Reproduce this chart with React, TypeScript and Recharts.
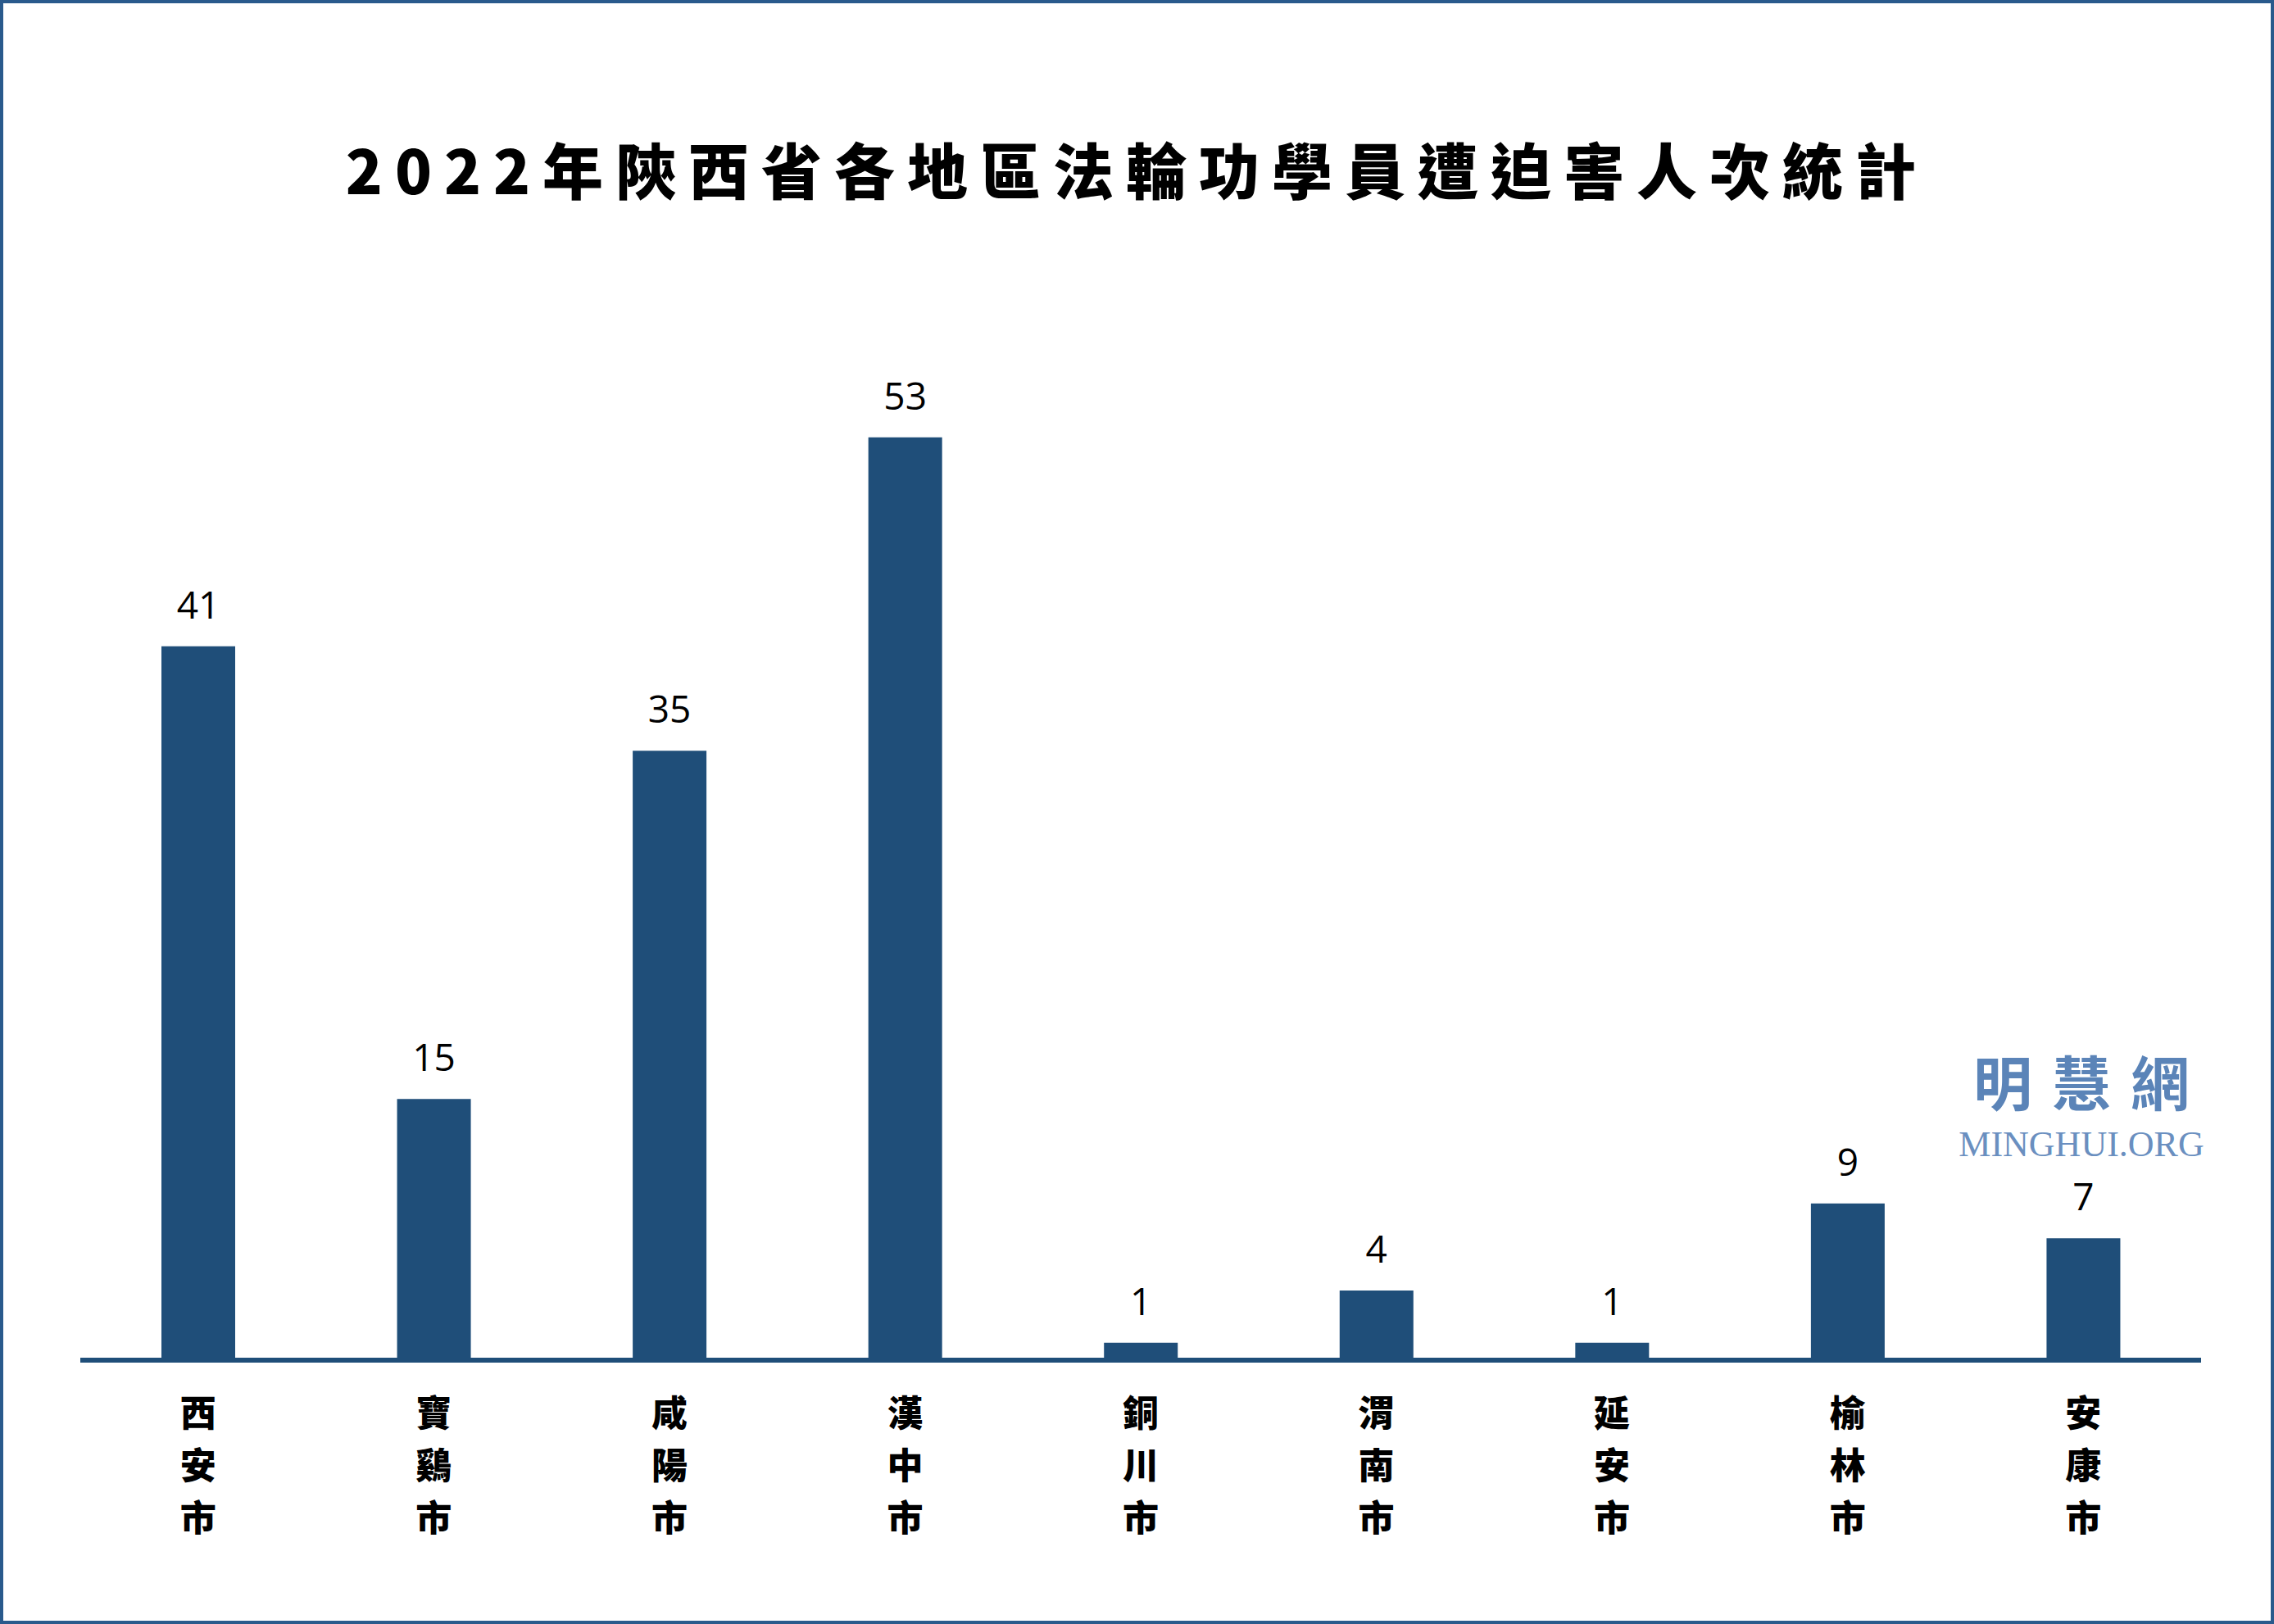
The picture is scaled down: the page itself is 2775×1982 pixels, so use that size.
import React from 'react';
import { BarChart, Bar, XAxis, YAxis, LabelList } from 'recharts';

const cities = ['西安市', '寶鷄市', '咸陽市', '漢中市', '銅川市', '渭南市', '延安市', '榆林市', '安康市'];
const counts = [41, 15, 35, 53, 1, 4, 1, 9, 7];

const W = 2775;
const H = 1982;
const BAR = '#1f4e79';
const CJK = '"Noto Sans CJK TC", "Noto Sans CJK SC", sans-serif';

const data = cities.map((c, i) => ({ city: c, value: counts[i] }));

// vertical city names, one char per line
const CityTick = ({ x, y, payload }: any) => {
  const chars = String(payload.value).split('');
  return (
    <text
      x={x}
      y={y + 54}
      textAnchor="middle"
      dominantBaseline="central"
      fontFamily={CJK}
      fontWeight={900}
      fontSize={44}
      fill="#000"
    >
      {chars.map((ch, i) => (
        <tspan key={i} x={x} dy={i === 0 ? 0 : 64}>
          {ch}
        </tspan>
      ))}
    </text>
  );
};

export default function App() {
  return (
    <div style={{ position: 'absolute', left: 0, top: 0, width: W, height: H, background: '#fff' }}>
      <div
        style={{
          position: 'absolute',
          left: 0,
          top: 0,
          width: W,
          height: H,
          boxSizing: 'border-box',
          border: '4px solid #2a5a8c',
        }}
      />
      <div
        style={{
          position: 'absolute',
          left: 0,
          width: W,
          top: 160,
          textAlign: 'center',
          fontFamily: CJK,
          fontWeight: 900,
          fontSize: 74,
          letterSpacing: 15,
          lineHeight: '90px',
          color: '#000',
        }}
      >
        2022年陝西省各地區法輪功學員遭迫害人次統計
      </div>
      <BarChart
        width={W}
        height={H}
        data={data}
        margin={{ top: 385, right: 89, bottom: 72, left: 98 }}
        style={{ position: 'absolute', left: 0, top: 0 }}
      >
        <XAxis
          dataKey="city"
          axisLine={{ stroke: BAR, strokeWidth: 6 }}
          tickLine={false}
          tick={<CityTick />}
          interval={0}
          height={250}
          padding={{ left: 0, right: 0 }}
        />
        <YAxis hide domain={[0, 60]} width={0} />
        <Bar dataKey="value" fill={BAR} barSize={90} isAnimationActive={false}>
          <LabelList
            dataKey="value"
            position="top"
            offset={34}
            fill="#000"
            fontSize={46}
            fontFamily='"Open Sans", "Noto Sans", sans-serif'
          />
        </Bar>
      </BarChart>
      <div
        style={{
          position: 'absolute',
          left: 2330,
          width: 420,
          top: 1266,
          textAlign: 'center',
          fontFamily: CJK,
          fontWeight: 700,
          fontSize: 72,
          letterSpacing: 24,
          paddingLeft: 24,
          boxSizing: 'border-box',
          lineHeight: '104px',
          color: '#5b84b8',
        }}
      >
        明慧網
      </div>
      <div
        style={{
          position: 'absolute',
          left: 2330,
          width: 420,
          top: 1372,
          textAlign: 'center',
          fontFamily: '"Liberation Serif", serif',
          fontSize: 44,
          lineHeight: '49px',
          color: '#6a8fc0',
        }}
      >
        MINGHUI.ORG
      </div>
    </div>
  );
}
